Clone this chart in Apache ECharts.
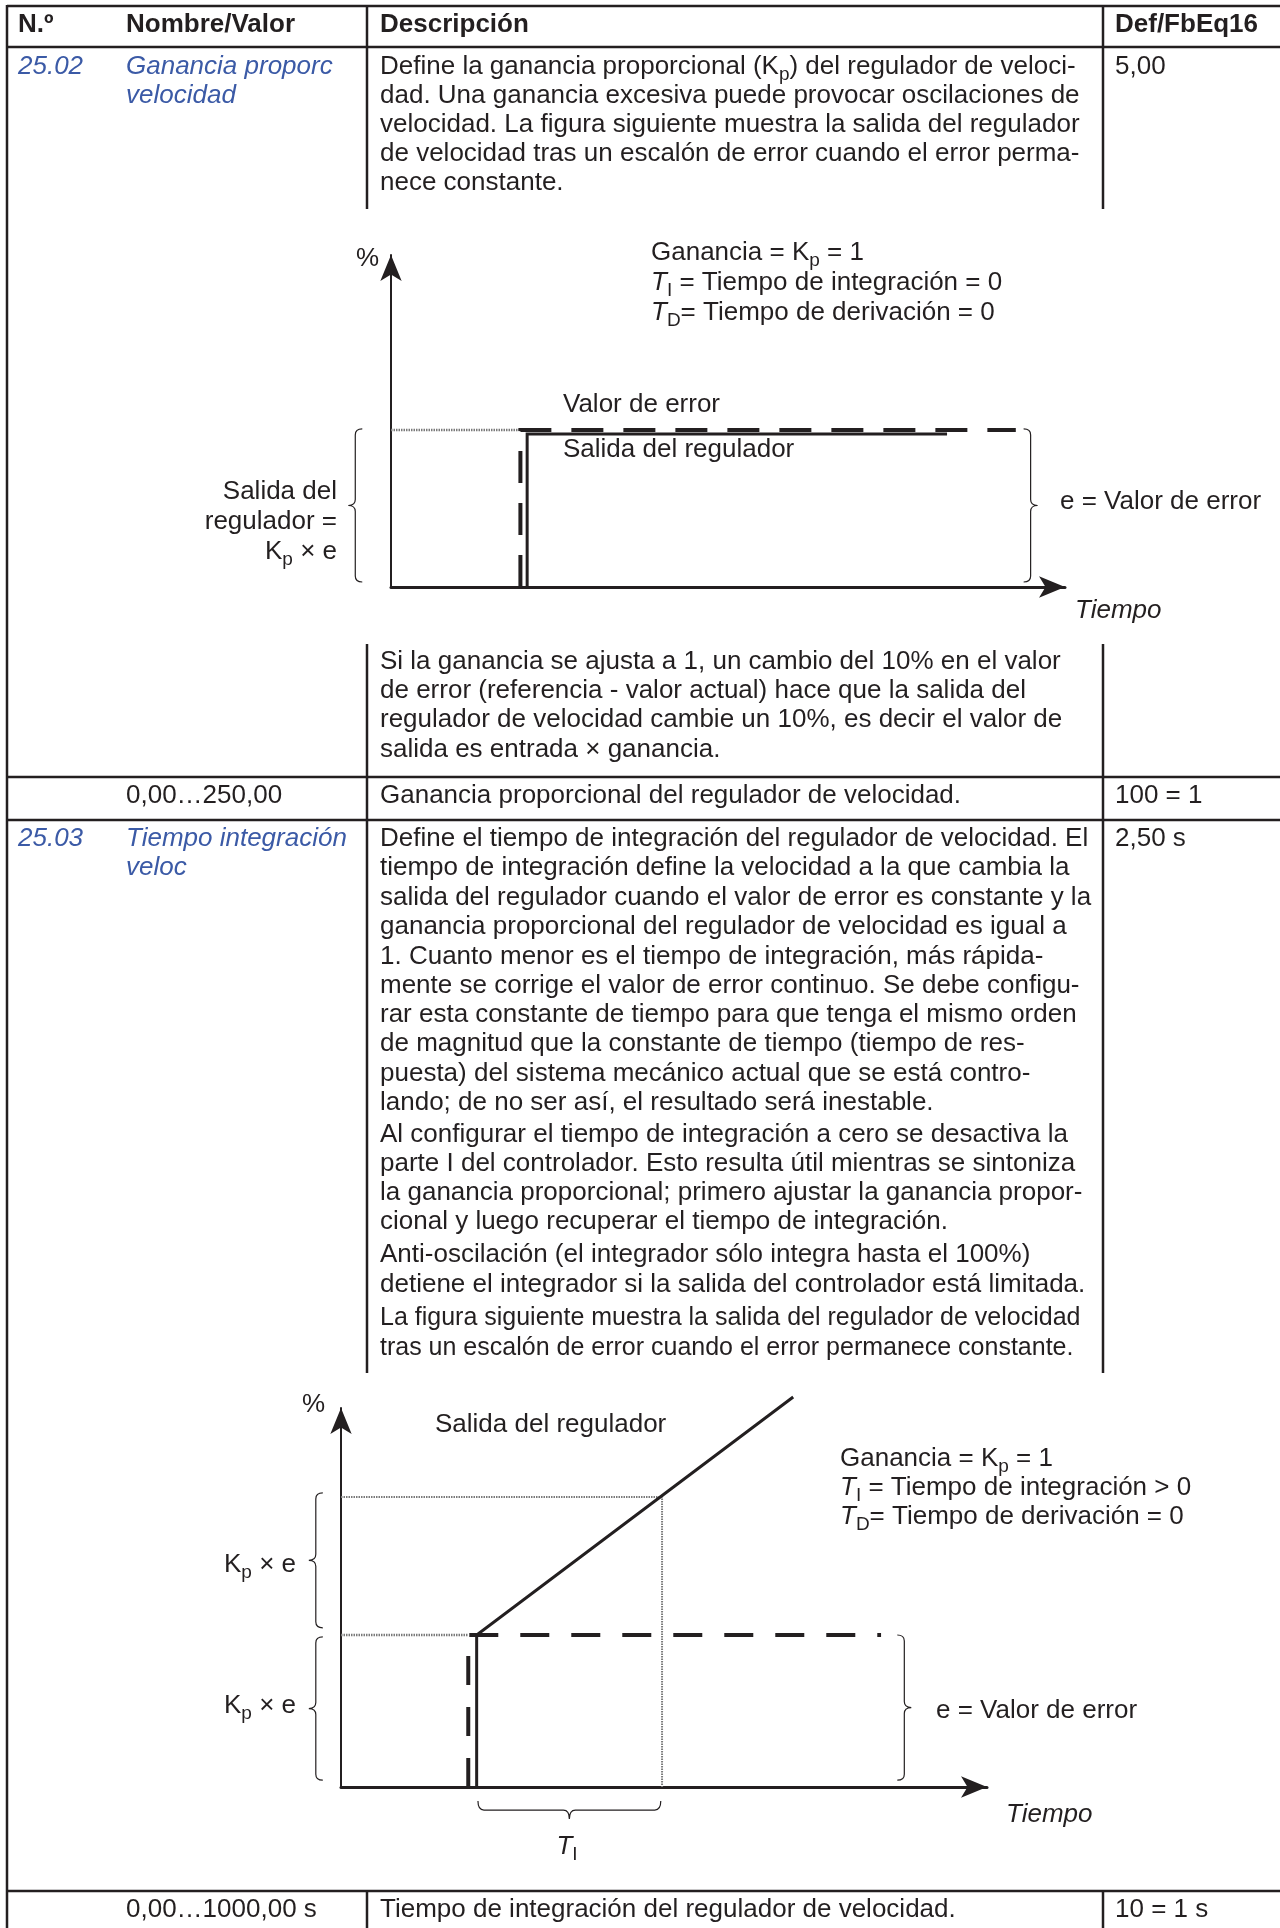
<!DOCTYPE html>
<html>
<head>
<meta charset="utf-8">
<title>25.02 / 25.03 Regulador de velocidad</title>
<script src="https://cdn.jsdelivr.net/npm/echarts@6/dist/echarts.min.js"></script>
<style>
  html, body { margin: 0; padding: 0; background: #fff; }
  #page { width: 1280px; height: 1928px; }
</style>
</head>
<body>
<div id="page"></div>
<script>
var INK = '#231f20';
var BLUE = '#3b5aa6';
var GUIDE = '#7a7a7a';
var FONT = '"Liberation Sans", Arial, Helvetica, sans-serif';
var SIZE = 26;

// figure 1 : only proportional part (TI = 0)
var kpError = [[1.92, 0], [1.92, 4.73], [9.27, 4.73]];
var kpOutput = [[2.02, 0], [2.02, 4.61], [8.25, 4.61]];
var kpGuide = [[0, 4.73], [1.92, 4.73]];
// [x1, y1, x2, y2, tip]   tip -1 = points left/up, 1 = right/down
var kpBraces = [[-0.53, 0.15, -0.53, 4.76, -1], [9.49, 0.15, 9.49, 4.76, 1]];

// figure 2 : proportional + integral (TI > 0)
var piError = [[1.97, 0], [1.97, 4.01], [8.36, 4.01]];
var piOutput = [[2.1, 0], [2.1, 4.01], [7.0, 10.29]];
var piGuideLow = [[0, 4.01], [1.97, 4.01]];
var piGuideHigh = [[0, 7.65], [4.97, 7.65], [4.97, 0]];
var piBraces = [[-0.39, 4.2, -0.39, 7.76, -1], [-0.39, 0.18, -0.39, 3.96, -1],
  [8.72, 0.18, 8.72, 4.01, 1], [2.12, -0.61, 4.95, -0.61, 1]];

var RICH = {
  s: { fontFamily: FONT, fontSize: 19, fill: INK, padding: [16, 0, 0, 0], lineHeight: 36 },
  it: { fontFamily: FONT, fontSize: SIZE, fontStyle: 'italic', fill: INK, lineHeight: 36 }
};

function label(x, y, text, opt) {
  opt = opt || {};
  return {
    type: 'text', x: x, y: y, silent: true,
    style: {
      text: text,
      fill: opt.color || INK,
      fontFamily: FONT,
      fontSize: opt.size || SIZE,
      fontWeight: opt.bold ? 'bold' : 'normal',
      fontStyle: opt.italic ? 'italic' : 'normal',
      textAlign: opt.align || 'left',
      textVerticalAlign: 'middle',
      lineHeight: 36,
      rich: RICH
    }
  };
}

function rule(x1, y1, x2, y2) {
  return { type: 'line', silent: true, shape: { x1: x1, y1: y1, x2: x2, y2: y2 },
    style: { stroke: INK, lineWidth: 2.5 } };
}

function block(x, ys, lines, opt) {
  return lines.map(function (t, i) { return label(x, ys[i], t, opt); });
}

var els = [];

// table frame
els.push(rule(7, 6, 1280, 6), rule(7, 47, 1280, 47), rule(7, 777, 1280, 777),
  rule(7, 820, 1280, 820), rule(7, 1891, 1280, 1891), rule(7, 5, 7, 1928));
[[6, 209], [644, 777], [777, 820], [820, 1373], [1891, 1928]].forEach(function (seg) {
  els.push(rule(367, seg[0], 367, seg[1]), rule(1103, seg[0], 1103, seg[1]));
});

// header
els.push(label(18, 25, 'N.º', { bold: true }), label(126, 25, 'Nombre/Valor', { bold: true }),
  label(380, 25, 'Descripción', { bold: true }), label(1115, 25, 'Def/FbEq16', { bold: true }));

// 25.02
var r1 = [67, 96, 125, 154, 183];
els.push(label(18, r1[0], '25.02', { color: BLUE, italic: true }));
els = els.concat(block(126, r1, ['Ganancia proporc', 'velocidad'], { color: BLUE, italic: true }));
els = els.concat(block(380, r1, [
  'Define la ganancia proporcional (K{s|p}) del regulador de veloci-',
  'dad. Una ganancia excesiva puede provocar oscilaciones de',
  'velocidad. La figura siguiente muestra la salida del regulador',
  'de velocidad tras un escalón de error cuando el error perma-',
  'nece constante.'
]));
els.push(label(1115, r1[0], '5,00'));

// figure 1 texts
els.push(label(379, 259, '%', { align: 'right' }),
  label(651, 253, 'Ganancia = K{s|p} = 1'),
  label(651, 283, '{it|T}{s|I} = Tiempo de integración = 0'),
  label(651, 313, '{it|T}{s|D}= Tiempo de derivación = 0'),
  label(563, 405, 'Valor de error'),
  label(563, 450, 'Salida del regulador'),
  label(337, 492, 'Salida del', { align: 'right' }),
  label(337, 522, 'regulador =', { align: 'right' }),
  label(337, 552, 'K{s|p} × e', { align: 'right' }),
  label(1060, 502, 'e = Valor de error'),
  label(1075, 611, 'Tiempo', { italic: true }));

// text under figure 1
els = els.concat(block(380, [662, 691, 720, 750], [
  'Si la ganancia se ajusta a 1, un cambio del 10% en el valor',
  'de error (referencia - valor actual) hace que la salida del',
  'regulador de velocidad cambie un 10%, es decir el valor de',
  'salida es entrada × ganancia.'
]));
els.push(label(126, 796, '0,00…250,00'), label(380, 796, 'Ganancia proporcional del regulador de velocidad.'),
  label(1115, 796, '100 = 1'));

// 25.03
var r2 = [839, 868, 898, 927, 957, 986, 1015, 1044, 1074, 1103, 1135, 1164, 1193, 1222, 1255, 1285];
els.push(label(18, r2[0], '25.03', { color: BLUE, italic: true }));
els = els.concat(block(126, r2, ['Tiempo integración', 'veloc'], { color: BLUE, italic: true }));
els = els.concat(block(380, r2, [
  'Define el tiempo de integración del regulador de velocidad. El',
  'tiempo de integración define la velocidad a la que cambia la',
  'salida del regulador cuando el valor de error es constante y la',
  'ganancia proporcional del regulador de velocidad es igual a',
  '1. Cuanto menor es el tiempo de integración, más rápida-',
  'mente se corrige el valor de error continuo. Se debe configu-',
  'rar esta constante de tiempo para que tenga el mismo orden',
  'de magnitud que la constante de tiempo (tiempo de res-',
  'puesta) del sistema mecánico actual que se está contro-',
  'lando; de no ser así, el resultado será inestable.',
  'Al configurar el tiempo de integración a cero se desactiva la',
  'parte I del controlador. Esto resulta útil mientras se sintoniza',
  'la ganancia proporcional; primero ajustar la ganancia propor-',
  'cional y luego recuperar el tiempo de integración.',
  'Anti-oscilación (el integrador sólo integra hasta el 100%)',
  'detiene el integrador si la salida del controlador está limitada.'
]));
// last paragraph is set a bit tighter in the original
els = els.concat(block(380, [1318, 1348], [
  'La figura siguiente muestra la salida del regulador de velocidad',
  'tras un escalón de error cuando el error permanece constante.'
], { size: 25 }));
els.push(label(1115, r2[0], '2,50 s'));

// figure 2 texts
els.push(label(325, 1405, '%', { align: 'right' }),
  label(435, 1425, 'Salida del regulador'),
  label(840, 1459, 'Ganancia = K{s|p} = 1'),
  label(840, 1488, '{it|T}{s|I} = Tiempo de integración > 0'),
  label(840, 1517, '{it|T}{s|D}= Tiempo de derivación = 0'),
  label(296, 1565, 'K{s|p} × e', { align: 'right' }),
  label(296, 1706, 'K{s|p} × e', { align: 'right' }),
  label(936, 1711, 'e = Valor de error'),
  label(1006, 1815, 'Tiempo', { italic: true }),
  label(567, 1847, '{it|T}{s|I}', { align: 'center' }));

// last row
els.push(label(126, 1910, '0,00…1000,00 s'), label(380, 1910, 'Tiempo de integración del regulador de velocidad.'),
  label(1115, 1910, '10 = 1 s'));

// curly brace between two points, drawn in pixel space
function bracePath(a, b, tip) {
  var vertical = Math.abs(a[0] - b[0]) < Math.abs(a[1] - b[1]);
  var depth = vertical ? 14 : 18, r = 6;
  var s0 = vertical ? Math.min(a[1], b[1]) : Math.min(a[0], b[0]);
  var s1 = vertical ? Math.max(a[1], b[1]) : Math.max(a[0], b[0]);
  var c = vertical ? a[0] : a[1];
  var sm = (s0 + s1) / 2;
  var ce = c - tip * depth / 2, ct = c + tip * depth / 2;
  function p(s, q) { return vertical ? q + ' ' + s : s + ' ' + q; }
  return 'M' + p(s0, ce) + ' Q' + p(s0, c) + ' ' + p(s0 + r, c) +
    ' L' + p(sm - r, c) + ' Q' + p(sm, c) + ' ' + p(sm, ct) +
    ' Q' + p(sm, c) + ' ' + p(sm + r, c) + ' L' + p(s1 - r, c) +
    ' Q' + p(s1, c) + ' ' + p(s1, ce);
}

function braces(data, gi) {
  return {
    type: 'custom', xAxisIndex: gi, yAxisIndex: gi, data: data, clip: false, silent: true,
    renderItem: function (params, api) {
      var a = api.coord([api.value(0), api.value(1)]);
      var b = api.coord([api.value(2), api.value(3)]);
      return {
        type: 'path',
        shape: { pathData: bracePath(a, b, api.value(4)) },
        style: { fill: 'none', stroke: INK, lineWidth: 1.2 }
      };
    }
  };
}

function line(data, gi, color, width, type) {
  return {
    type: 'line', xAxisIndex: gi, yAxisIndex: gi, data: data,
    symbol: 'none', showSymbol: false, clip: false, silent: true,
    lineStyle: { color: color, width: width, type: type, cap: 'butt', join: 'miter' }
  };
}

function axisPair(gi, width) {
  return {
    gridIndex: gi, type: 'value', min: 0, max: 10,
    axisLine: { show: true, onZero: false, symbol: ['none', 'arrow'], symbolSize: [16, 26],
      lineStyle: { color: INK, width: width } },
    axisTick: { show: false }, axisLabel: { show: false }, splitLine: { show: false }
  };
}

var myChart = echarts.init(document.getElementById('page'));
myChart.setOption({
  backgroundColor: '#fff',
  animation: false,
  grid: [
    { left: 391, top: 255, width: 674, height: 332, outerBoundsMode: 'none' },
    { left: 341, top: 1408, width: 646, height: 379, outerBoundsMode: 'none' }
  ],
  xAxis: [axisPair(0, 3), axisPair(1, 3)],
  yAxis: [axisPair(0, 2), axisPair(1, 2)],
  graphic: { elements: els },
  series: [
    line(kpGuide, 0, GUIDE, 2.5, [1.5, 1]),
    line(kpOutput, 0, INK, 3, 'solid'),
    line(kpError, 0, INK, 4, [32, 20]),
    braces(kpBraces, 0),
    line(piGuideLow, 1, GUIDE, 2.5, [1.5, 1]),
    line(piGuideHigh, 1, GUIDE, 2, [1.5, 1]),
    line(piOutput, 1, INK, 3, 'solid'),
    line(piError, 1, INK, 4, [29, 22]),
    braces(piBraces, 1)
  ]
});
</script>
</body>
</html>
